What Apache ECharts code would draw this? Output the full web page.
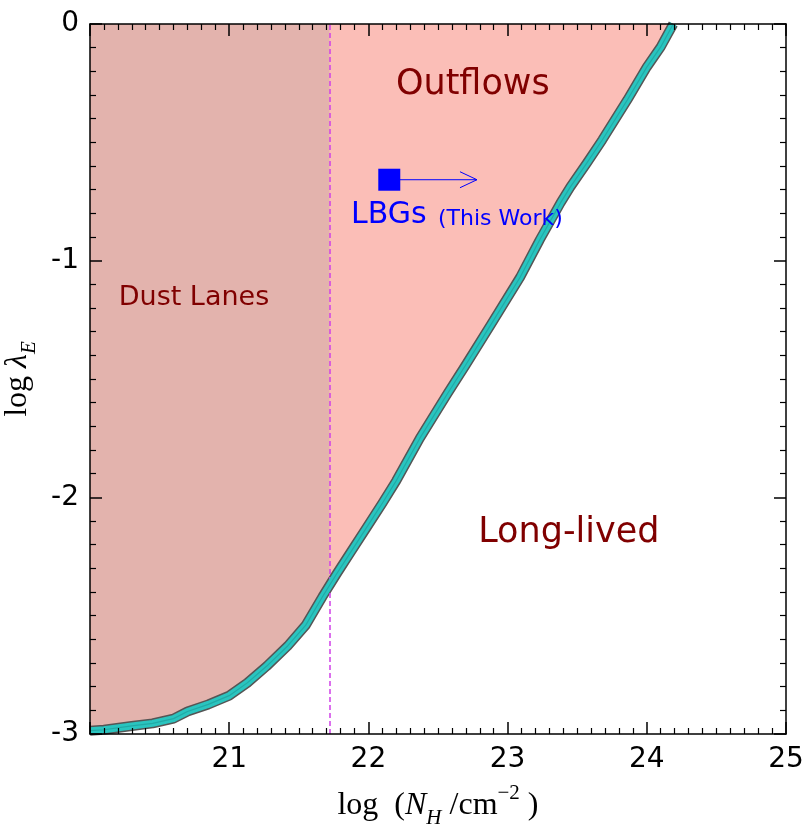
<!DOCTYPE html>
<html><head><meta charset="utf-8">
<script src="https://cdn.jsdelivr.net/npm/echarts@6/dist/echarts.min.js"></script>
<style>html,body{margin:0;padding:0;background:#fff}#c{width:811px;height:831px}</style>
</head><body><div id="c"></div>
<script>
// boundary curve: log N_H vs log lambda_E
const curveX = [20.0, 20.1, 20.3, 20.45, 20.6, 20.7, 20.85, 21.0, 21.13, 21.27, 21.42, 21.55, 21.67, 21.77, 21.88, 21.99, 22.1, 22.2, 22.37, 22.57, 22.7, 22.88, 23.09, 23.23, 23.38, 23.45, 23.57, 23.68, 23.86, 24.0, 24.1, 24.19];
const curveY = [-2.986, -2.982, -2.966, -2.955, -2.935, -2.905, -2.875, -2.838, -2.784, -2.713, -2.628, -2.54, -2.42, -2.325, -2.225, -2.125, -2.025, -1.93, -1.75, -1.56, -1.44, -1.27, -1.07, -0.913, -0.756, -0.689, -0.587, -0.49, -0.321, -0.182, -0.097, 0];
// dust-lane limit
const dustEdgeX = 21.72;
const dustEdgeY = -2.372;
// LBG point (lower limit in N_H)
const lbgPoint = [22.15, -0.658];
const lbgArrowEnd = [22.78, -0.658];
const xTickLabels = [21, 22, 23, 24, 25];
const yTickLabels = [0, -1, -2, -3];
const regionNames = ['Outflows', 'Long-lived', 'Dust Lanes'];
const lbgName = 'LBGs';
const lbgNote = '(This Work)';

const curve = curveX.map((x, i) => [x, curveY[i]]);
const dust = curve.filter(p => p[0] < dustEdgeX).concat([[dustEdgeX, dustEdgeY]]);

const font = 'DejaVu Sans';
const serif = 'Liberation Serif';
const axisCommon = {
  type: 'value', min: 20, max: 25, interval: 1, z: 10,
  axisLine: {show: true, onZero: false, lineStyle: {color: '#000', width: 1.5}},
  axisTick: {show: true, inside: true, length: 12, lineStyle: {color: '#000', width: 1.5}},
  minorTick: {show: true, splitNumber: 10, length: 6, lineStyle: {color: '#000', width: 1.2}},
  splitLine: {show: false}
};
const yCommon = Object.assign({}, axisCommon, {min: -3, max: 0, interval: 1});

const chart = echarts.init(document.getElementById('c'), null, {renderer: 'canvas'});
chart.setOption({
  animation: false,
  grid: {left: 90, right: 25, top: 24, bottom: 97, containLabel: false, outerBoundsMode: 'none'},
  xAxis: [
    Object.assign({}, axisCommon, {
      position: 'bottom',
      axisLabel: {show: true, margin: 12, fontFamily: font, fontSize: 28, color: '#000',
        formatter: v => xTickLabels.includes(v) ? String(v) : ''},
      name: 'log  ({i|N}{sub|H}{n| /cm}{sup|−2}{n| )}',
      nameLocation: 'middle', nameGap: 49,
      nameTextStyle: {fontFamily: serif, fontSize: 32, color: '#000', lineHeight: 46,
        rich: {
          n: {fontFamily: serif, fontSize: 32, lineHeight: 46},
          i: {fontFamily: serif, fontStyle: 'italic', fontSize: 32, lineHeight: 46},
          sub: {fontFamily: serif, fontStyle: 'italic', fontSize: 21, lineHeight: 46, verticalAlign: 'bottom'},
          sup: {fontFamily: serif, fontSize: 21, lineHeight: 46, verticalAlign: 'top'}
        }}
    }),
    Object.assign({}, axisCommon, {position: 'top', axisLabel: {show: false}})
  ],
  yAxis: [
    Object.assign({}, yCommon, {
      position: 'left',
      axisLabel: {show: true, margin: 11, fontFamily: font, fontSize: 28, color: '#000',
        formatter: v => yTickLabels.includes(v) ? String(v) : ''},
      name: 'log {i|λ}{sub|E}',
      nameLocation: 'middle', nameGap: 45, nameRotate: 90,
      nameTextStyle: {fontFamily: serif, fontSize: 32, color: '#000', lineHeight: 46,
        rich: {
          i: {fontFamily: serif, fontStyle: 'italic', fontSize: 32, lineHeight: 46},
          sub: {fontFamily: serif, fontStyle: 'italic', fontSize: 21, lineHeight: 46, verticalAlign: 'bottom'}
        }}
    }),
    Object.assign({}, yCommon, {position: 'right', axisLabel: {show: false}})
  ],
  series: [
    {type: 'line', data: curve, symbol: 'none', z: 1,
      lineStyle: {opacity: 0}, areaStyle: {origin: 'end', color: 'rgb(251,190,183)', opacity: 1}},
    {type: 'line', data: dust, symbol: 'none', z: 2,
      lineStyle: {opacity: 0}, areaStyle: {origin: 'end', color: 'rgb(227,179,173)', opacity: 1}},
    {type: 'line', data: curve, symbol: 'none', z: 4,
      lineStyle: {color: '#555555', width: 10, join: 'round'}},
    {type: 'line', data: curve, symbol: 'none', z: 5,
      lineStyle: {color: '#2ac4bf', width: 7, join: 'round'}},
    {type: 'line', data: curve, symbol: 'none', z: 6,
      lineStyle: {color: '#21aaa6', width: 1.2, join: 'round'}},
    {type: 'line', data: [], z: 7, symbol: 'none',
      markLine: {silent: true, symbol: 'none', animation: false, label: {show: false},
        lineStyle: {color: '#d040e8', width: 1.5, type: [5, 3], opacity: 1},
        data: [{xAxis: dustEdgeX}]}},
    {type: 'custom', z: 7, data: [[lbgPoint[0], lbgPoint[1], lbgArrowEnd[0], lbgArrowEnd[1]]],
      renderItem: (params, api) => {
        const s = api.coord([api.value(0), api.value(1)]);
        const e = api.coord([api.value(2), api.value(3)]);
        return {type: 'group', children: [
          {type: 'line', shape: {x1: s[0], y1: s[1], x2: e[0], y2: e[1]}, style: {stroke: '#0000ff', lineWidth: 1}},
          {type: 'polyline', shape: {points: [[e[0] - 17, e[1] - 8], [e[0], e[1]], [e[0] - 17, e[1] + 8]]},
            style: {stroke: '#0000ff', fill: null, lineWidth: 1}}
        ]};
      }},
    {type: 'scatter', z: 8, data: [lbgPoint], symbol: 'rect', symbolSize: 22,
      itemStyle: {color: '#0000ff', opacity: 1}},
    {type: 'scatter', z: 9, symbolSize: 0, silent: true, itemStyle: {opacity: 1},
      data: [
        {value: [22.75, -0.258], label: {fontSize: 35}, name: regionNames[0]},
        {value: [23.44, -2.151], label: {fontSize: 35}, name: regionNames[1]},
        {value: [20.747, -1.158], label: {fontSize: 27}, name: regionNames[2]}
      ],
      label: {show: true, position: 'inside', formatter: p => p.name, fontFamily: font, color: '#800000'}},
    {type: 'scatter', z: 9, symbolSize: 0, silent: true, itemStyle: {opacity: 1},
      data: [
        {value: [21.875, -0.807], name: lbgName, label: {fontSize: 30}},
        {value: [22.5, -0.825], name: lbgNote, label: {fontSize: 22}}
      ],
      label: {show: true, position: 'inside', align: 'left', formatter: p => p.name, fontFamily: font, color: '#0000ff'}}
  ]
});
</script></body></html>
